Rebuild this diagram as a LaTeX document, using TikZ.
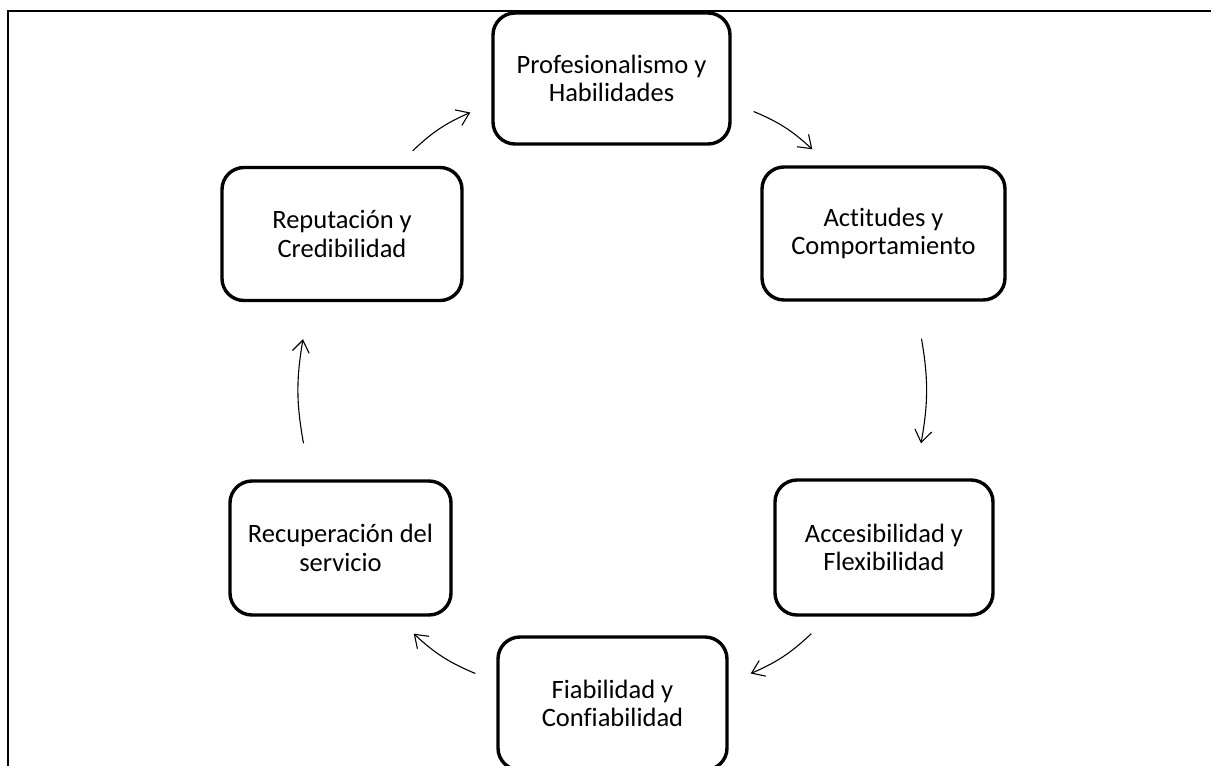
\documentclass[tikz,border=0pt]{standalone}
\usepackage{fontspec}
\setmainfont{Carlito}[Ligatures=NoCommon]
\usetikzlibrary{arrows.meta}

\begin{document}
\begin{tikzpicture}[x=1pt,y=-1pt,
  box/.style={draw, line width=3.4pt, rounded corners=22pt, align=center, inner sep=0pt,
    font=\fontsize{26.5}{28.5}\selectfont},
  flow/.style={line width=1.1pt, -{Straight Barb[length=12pt,width=17pt]}, bend left=10}]
\useasboundingbox (0,0) rectangle (1211,766);

% frame
\draw[line width=1.3pt] (8,766) -- (8,11) -- (1211,11);

% boxes
\node[box, minimum width=237pt, minimum height=131pt] (prof) at (611.5,78.5) {Profesionalismo y\\Habilidades};
\node[box, minimum width=243pt, minimum height=133pt] (act) at (883.5,233.5) {Actitudes y\\Comportamiento};
\node[box, minimum width=218pt, minimum height=135pt] (acc) at (884,547.5) {Accesibilidad y\\Flexibilidad};
\node[box, minimum width=229pt, minimum height=133pt] (fia) at (612.5,703.5) {Fiabilidad y\\Confiabilidad};
\node[box, minimum width=221pt, minimum height=134pt] (rec) at (340.5,548) {Recuperación del\\servicio};
\node[box, minimum width=240pt, minimum height=133pt] (rep) at (342,234) {Reputación y\\Credibilidad};

% cycle
\draw[flow] ([shift={(-51,-15)}]rep.north east) to ([shift={(-21,34)}]prof.west);
\draw[flow] ([shift={(22,33)}]prof.east) to ([shift={(52,-16)}]act.north west);
\draw[flow] ([shift={(38,37)}]act.south) to ([shift={(37,-35)}]acc.north);
\draw[flow] ([shift={(38,17)}]acc.south west) to ([shift={(22,-30)}]fia.east);
\draw[flow] ([shift={(-21,-30)}]fia.west) to ([shift={(-39,17)}]rec.south east);
\draw[flow] ([shift={(-37,-36)}]rec.north) to ([shift={(-39,37)}]rep.south);
\end{tikzpicture}
\end{document}
